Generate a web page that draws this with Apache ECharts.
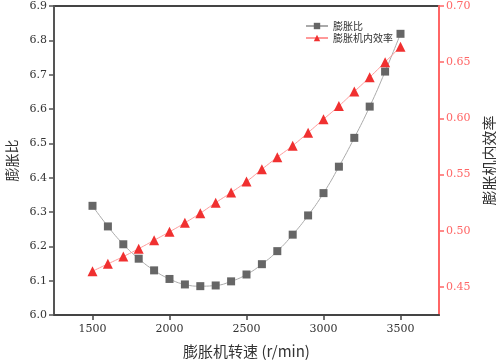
<!DOCTYPE html>
<html><head><meta charset="utf-8">
<script src="https://cdn.jsdelivr.net/npm/echarts@6/dist/echarts.min.js"></script>
<style>html,body{margin:0;padding:0;background:#fff}#c{width:496px;height:362px}</style>
</head><body><div id="c"></div>
<script>
const speeds = [1500,1600,1700,1800,1900,2000,2100,2200,2300,2400,2500,2600,2700,2800,2900,3000,3100,3200,3300,3400,3500];
const ratio = [6.318,6.258,6.206,6.164,6.130,6.105,6.089,6.084,6.086,6.098,6.118,6.148,6.186,6.234,6.290,6.355,6.432,6.516,6.607,6.709,6.819];
const efficiency = [0.464,0.4705,0.477,0.484,0.4915,0.499,0.507,0.5156,0.525,0.534,0.5437,0.5547,0.5654,0.5757,0.5873,0.5992,0.611,0.6238,0.6366,0.650,0.6638];
const xTicks = [1500,2000,2500,3000,3500];
const rightTicks = [0.45,0.50,0.55,0.60,0.65,0.70];
const names = ['膨胀比','膨胀机内效率'];

const numFont = 'DejaVu Serif';
const cjk = 'Noto Sans CJK SC';
const lab = c => ({fontFamily:numFont,fontSize:11,fontStyle:'normal',fontWeight:'normal',color:c,
  textStyle:{fontFamily:numFont,fontSize:11,color:c}});
const chart = echarts.init(document.getElementById('c'));
chart.setOption({
  animation:false,
  textStyle:{fontFamily:numFont},
  grid:{left:54,right:57,top:6,bottom:47,outerBoundsMode:'none',containLabel:false,
        show:true,borderColor:'#444',borderWidth:2,backgroundColor:'transparent'},
  legend:{
    left:300,top:16,orient:'vertical',itemGap:2,itemWidth:22,itemHeight:8,
    textStyle:{fontFamily:cjk,fontSize:10,color:'#333'},
    data:names
  },
  xAxis:[{
    type:'value',min:1250,max:3750,
    name:'膨胀机转速 (r/min)',nameLocation:'middle',nameGap:29,
    nameTextStyle:{fontFamily:cjk,fontSize:15,color:'#333'},
    axisLine:{onZero:false,lineStyle:{color:'#444',width:2}},
    axisTick:{customValues:xTicks,length:5,lineStyle:{color:'#444',width:1.5}},
    axisLabel:Object.assign({customValues:xTicks,margin:9,formatter:v=>String(v)},lab('#333')),
    splitLine:{show:false}
  }],
  yAxis:[{
    type:'value',min:6.0,max:6.9,interval:0.1,position:'left',
    name:'膨胀比',nameLocation:'middle',nameGap:35,nameRotate:90,
    nameTextStyle:{fontFamily:cjk,fontSize:14,color:'#333'},
    axisLine:{show:true,onZero:false,lineStyle:{color:'#555',width:2}},
    axisTick:{show:true,length:5,lineStyle:{color:'#555',width:1.5}},
    axisLabel:Object.assign({margin:7,formatter:v=>v.toFixed(1)},lab('#333')),
    splitLine:{show:false}
  },{
    type:'value',min:0.425,max:0.70,position:'right',
    name:'膨胀机内效率',nameLocation:'middle',nameGap:30,nameRotate:90,
    nameTextStyle:{fontFamily:cjk,fontSize:15,color:'#333'},
    axisLine:{show:true,onZero:false,lineStyle:{color:'#ff6666',width:2}},
    axisTick:{show:true,customValues:rightTicks,length:5,lineStyle:{color:'#ff6666',width:1.5}},
    axisLabel:Object.assign({customValues:rightTicks,margin:7,formatter:v=>v.toFixed(2)},lab('#ff6666')),
    splitLine:{show:false}
  }],
  series:[{
    name:names[0],type:'line',yAxisIndex:0,
    data:speeds.map((s,i)=>[s,ratio[i]]),
    smooth:true,symbol:'rect',symbolSize:8,
    lineStyle:{color:'#aaaaaa',width:1},
    itemStyle:{color:'#666666'}
  },{
    name:names[1],type:'line',yAxisIndex:1,
    data:speeds.map((s,i)=>[s,efficiency[i]]),
    smooth:true,symbol:'triangle',symbolSize:10,
    lineStyle:{color:'#ff9999',width:1},
    itemStyle:{color:'#f03030'}
  }]
});
</script></body></html>
